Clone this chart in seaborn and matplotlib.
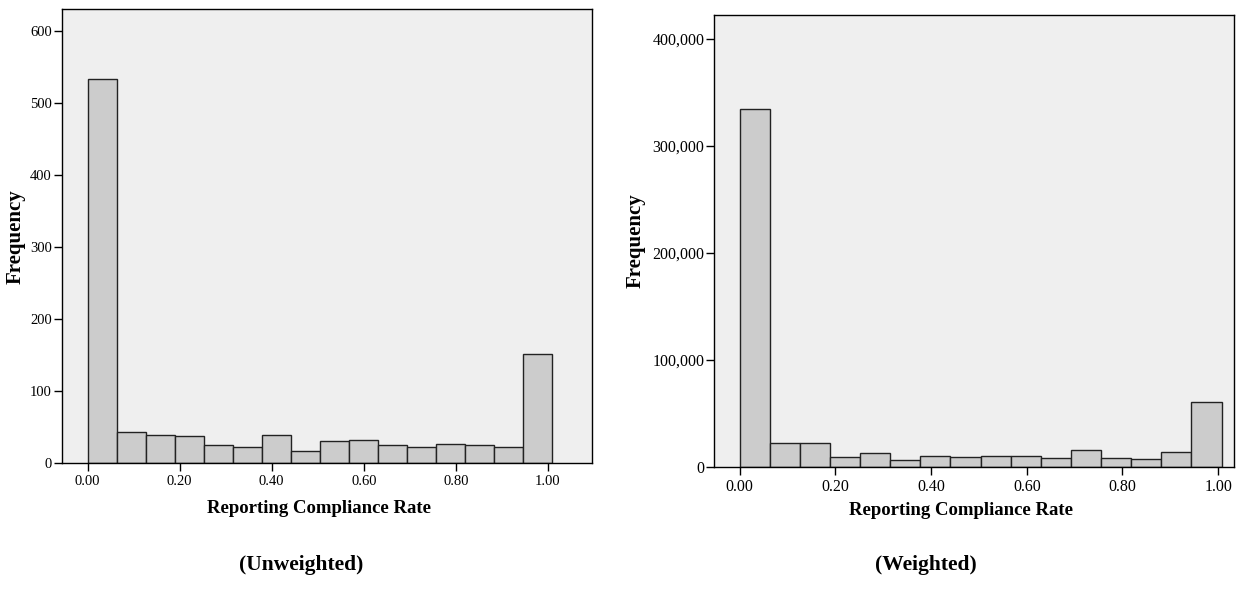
import numpy as np
import pandas as pd
import matplotlib
matplotlib.use("Agg")
import matplotlib.pyplot as plt
import matplotlib.ticker as mticker
import seaborn as sns

# ---- data ----
bin_count = 16
unweighted_counts = [534, 44, 39, 38, 26, 23, 39, 17, 31, 32, 26, 23, 27, 26, 22, 152]
weighted_counts = [334700, 22100, 21800, 8700, 12700, 6500, 10300, 9000,
                   10300, 9900, 8400, 15500, 8100, 7100, 14000, 60300]
x_ticks = [0.0, 0.2, 0.4, 0.6, 0.8, 1.0]
x_tick_labels = ["0.00", "0.20", "0.40", "0.60", "0.80", "1.00"]
left_yticks = [0, 100, 200, 300, 400, 500, 600]
right_yticks = [0, 100000, 200000, 300000, 400000]
xlabel = "Reporting Compliance Rate"
ylabel = "Frequency"
captions = ["(Unweighted)", "(Weighted)"]

sns.set_theme(style="ticks")
plt.rcParams["font.family"] = ["Liberation Serif", "DejaVu Serif"]
plt.rcParams["text.color"] = "black"
plt.rcParams["axes.labelcolor"] = "black"

W, H = 1238, 594
fig = plt.figure(figsize=(W / 100, H / 100), dpi=100)


def px_axes(left, top, right, bottom):
    return fig.add_axes([left / W, 1 - bottom / H, (right - left) / W, (bottom - top) / H])


L = dict(box=(61.7, 9, 592, 463.3))
R = dict(box=(714.3, 15, 1234, 466.7))
ax1 = px_axes(*L["box"])
ax2 = px_axes(*R["box"])


def draw(ax, box, counts, upper, xlim, ylim, yticks, fmt, tsize,
         xlab_top, xlab_cx, ylab_right):
    left, top, right, bottom = box
    edges = [float(e) for e in np.linspace(0, upper, bin_count + 1)]
    centers = [(a + b) / 2 for a, b in zip(edges[:-1], edges[1:])]
    df = pd.DataFrame({"x": centers, "w": [float(c) for c in counts]})
    sns.histplot(data=df, x="x", weights="w", bins=edges, ax=ax,
                 color="#cccccc", edgecolor="#222222", linewidth=1.0, alpha=1.0)
    ax.set_facecolor("#efefef")
    ax.set_xlim(*xlim)
    ax.set_ylim(*ylim)
    ax.set_xticks(x_ticks)
    ax.set_xticklabels(x_tick_labels)
    ax.set_yticks(yticks)
    ax.yaxis.set_major_formatter(mticker.FuncFormatter(fmt))
    ax.tick_params(axis="both", direction="out", length=6, width=1, color="black",
                   labelsize=tsize, labelcolor="black")
    ax.tick_params(axis="x", pad=2.5)
    ax.tick_params(axis="y", pad=1)
    for s in ax.spines.values():
        s.set_visible(True)
        s.set_color("black")
        s.set_linewidth(1.0)
    ax.set_xlabel(xlabel, fontsize=13.5, fontweight="bold")
    ax.set_ylabel(ylabel, fontsize=15, fontweight="bold")
    ax.xaxis.set_label_coords((xlab_cx - left) / (right - left),
                              (bottom - xlab_top) / (bottom - top))
    ax.yaxis.set_label_coords((ylab_right - left) / (right - left), 0.5)
    ax.grid(False)


draw(ax1, L["box"], unweighted_counts, 1.01, (-0.0565, 1.096), (0, 631), left_yticks,
     lambda v, p: f"{int(v)}", 10.5, 500, 319, 26)
draw(ax2, R["box"], weighted_counts, 1.007, (-0.053, 1.033), (0, 422400), right_yticks,
     lambda v, p: f"{int(v):,}", 11.5, 502, 961, 646)

fig.text(301 / W, 1 - 565 / H, captions[0], ha="center", va="center",
         fontsize=15.5, fontweight="bold")
fig.text(926 / W, 1 - 565 / H, captions[1], ha="center", va="center",
         fontsize=15.5, fontweight="bold")

fig.savefig("out.png", dpi=100)
